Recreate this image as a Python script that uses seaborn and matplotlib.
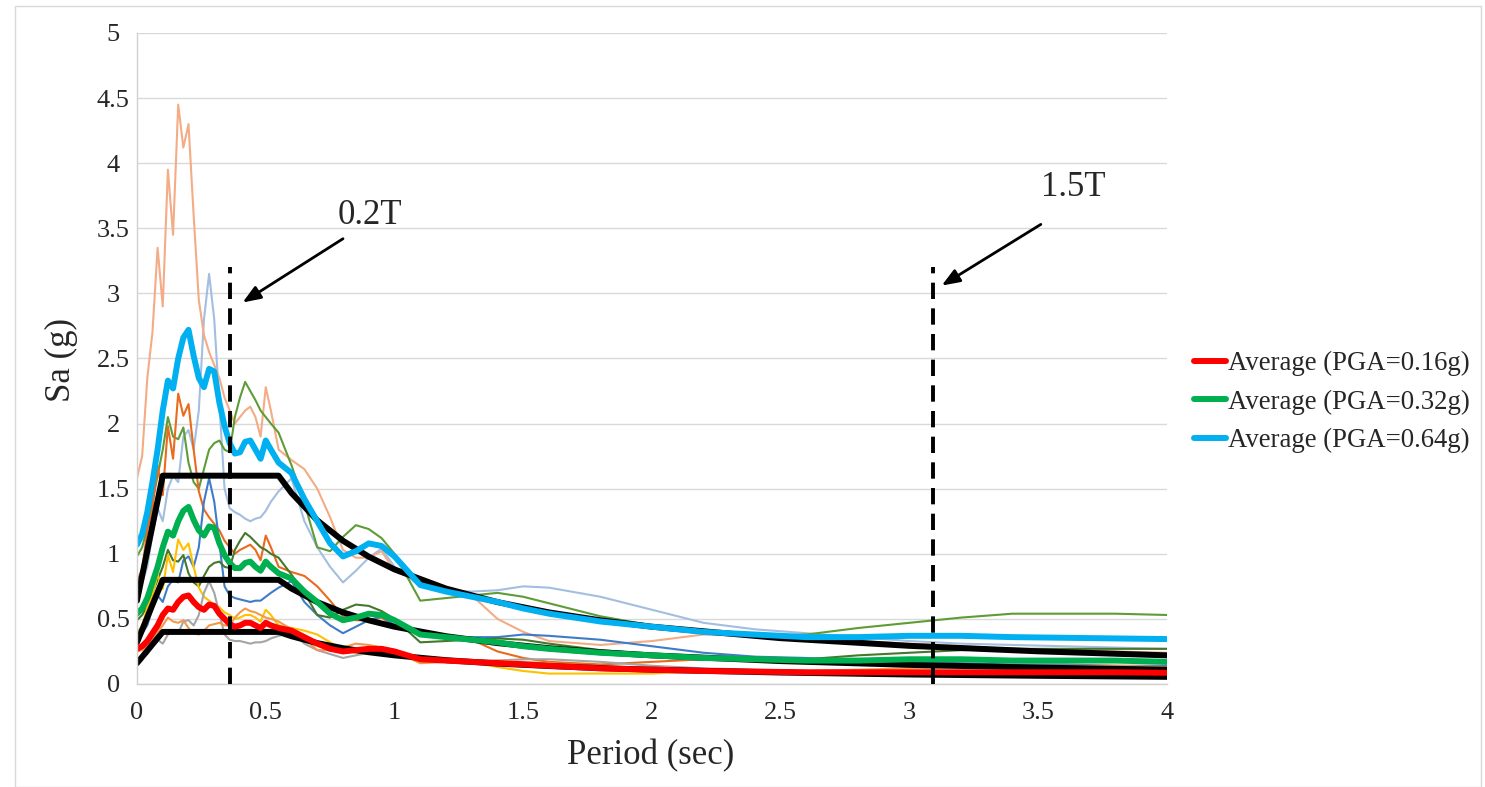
import matplotlib
matplotlib.use("Agg")
import matplotlib.pyplot as plt
import seaborn as sns
from matplotlib.patches import Rectangle

# Spectral periods (sec) shared by every record and average
periods = [0.00, 0.02, 0.04, 0.06, 0.08, 0.10, 0.12, 0.14, 0.16, 0.18,
           0.20, 0.22, 0.24, 0.26, 0.28, 0.30, 0.32, 0.34, 0.36, 0.38,
           0.40, 0.42, 0.44, 0.46, 0.48, 0.50, 0.52,
           0.55, 0.60, 0.65, 0.70, 0.75, 0.80, 0.85, 0.90, 0.95, 1.00,
           1.10, 1.20, 1.30, 1.40, 1.50, 1.60,
           1.80, 2.00, 2.20, 2.40, 2.60, 2.80, 3.00, 3.20, 3.40, 3.60, 3.80, 4.00]

# Record spectra, PGA = 0.16 g
rec_a_016 = [0.40, 0.44, 0.59, 0.68, 0.84, 0.73, 0.99, 0.86, 1.11, 1.03,
             1.08, 0.90, 0.74, 0.67, 0.64, 0.61, 0.59, 0.55, 0.53, 0.50,
             0.51, 0.53, 0.53, 0.51, 0.48, 0.57, 0.53,
             0.45, 0.43, 0.41, 0.38, 0.32, 0.26, 0.24, 0.24, 0.26, 0.22,
             0.20, 0.18, 0.17, 0.13, 0.10, 0.08,
             0.08, 0.08, 0.10, 0.09, 0.09, 0.08, 0.08, 0.07, 0.07, 0.07, 0.06, 0.06]
rec_b_016 = [0.16, 0.20, 0.23, 0.29, 0.34, 0.31, 0.38, 0.40, 0.39, 0.48,
             0.49, 0.45, 0.53, 0.70, 0.79, 0.70, 0.54, 0.38, 0.34, 0.33,
             0.33, 0.32, 0.31, 0.32, 0.32, 0.33, 0.35,
             0.37, 0.40, 0.31, 0.26, 0.23, 0.20, 0.22, 0.24, 0.26, 0.23,
             0.19, 0.18, 0.18, 0.18, 0.19, 0.19,
             0.17, 0.14, 0.12, 0.11, 0.10, 0.09, 0.08, 0.08, 0.08, 0.07, 0.07, 0.07]
rec_c_016 = [0.25, 0.26, 0.30, 0.35, 0.40, 0.45, 0.51, 0.48, 0.47, 0.49,
             0.43, 0.39, 0.38, 0.41, 0.45, 0.46, 0.47, 0.45, 0.45, 0.51,
             0.55, 0.58, 0.56, 0.55, 0.53, 0.51, 0.50,
             0.48, 0.42, 0.35, 0.26, 0.26, 0.28, 0.31, 0.30, 0.28, 0.25,
             0.16, 0.17, 0.17, 0.18, 0.17, 0.16,
             0.13, 0.11, 0.10, 0.09, 0.10, 0.11, 0.12, 0.13, 0.14, 0.14, 0.14, 0.13]

# Record spectra, PGA = 0.32 g
rec_a_032 = [0.79, 0.88, 1.18, 1.35, 1.68, 1.45, 1.98, 1.73, 2.23, 2.06,
             2.15, 1.80, 1.48, 1.34, 1.28, 1.23, 1.18, 1.10, 1.05, 1.00,
             1.03, 1.05, 1.07, 1.03, 0.95, 1.14, 1.05,
             0.90, 0.86, 0.83, 0.75, 0.64, 0.52, 0.49, 0.49, 0.51, 0.44,
             0.39, 0.37, 0.34, 0.25, 0.20, 0.17,
             0.15, 0.17, 0.19, 0.19, 0.18, 0.17, 0.16, 0.15, 0.14, 0.13, 0.13, 0.12]
rec_b_032 = [0.33, 0.39, 0.45, 0.58, 0.68, 0.63, 0.75, 0.80, 0.78, 0.95,
             0.98, 0.90, 1.05, 1.40, 1.58, 1.40, 1.08, 0.75, 0.68, 0.66,
             0.65, 0.64, 0.63, 0.64, 0.64, 0.67, 0.70,
             0.74, 0.79, 0.63, 0.53, 0.45, 0.39, 0.44, 0.49, 0.52, 0.45,
             0.38, 0.36, 0.36, 0.36, 0.38, 0.37,
             0.34, 0.29, 0.24, 0.21, 0.20, 0.18, 0.17, 0.16, 0.15, 0.15, 0.14, 0.14]
rec_c_032 = [0.49, 0.53, 0.60, 0.70, 0.80, 0.90, 1.03, 0.95, 0.94, 0.99,
             0.85, 0.78, 0.75, 0.83, 0.90, 0.93, 0.94, 0.90, 0.89, 1.03,
             1.10, 1.16, 1.13, 1.09, 1.05, 1.03, 1.00,
             0.97, 0.84, 0.70, 0.53, 0.51, 0.57, 0.61, 0.60, 0.56, 0.50,
             0.32, 0.33, 0.34, 0.35, 0.34, 0.31,
             0.26, 0.23, 0.20, 0.19, 0.19, 0.22, 0.24, 0.26, 0.27, 0.27, 0.27, 0.27]

# Record spectra, PGA = 0.64 g
rec_a_064 = [1.58, 1.75, 2.35, 2.70, 3.35, 2.90, 3.95, 3.45, 4.45, 4.12,
             4.30, 3.60, 2.95, 2.68, 2.55, 2.45, 2.35, 2.20, 2.10, 2.00,
             2.05, 2.10, 2.13, 2.05, 1.90, 2.28, 2.10,
             1.80, 1.72, 1.65, 1.50, 1.28, 1.03, 0.97, 0.97, 1.02, 0.87,
             0.78, 0.73, 0.68, 0.50, 0.40, 0.33,
             0.30, 0.33, 0.38, 0.37, 0.35, 0.33, 0.31, 0.29, 0.27, 0.26, 0.25, 0.24]
rec_b_064 = [0.65, 0.78, 0.90, 1.15, 1.35, 1.25, 1.50, 1.60, 1.55, 1.90,
             1.95, 1.80, 2.10, 2.80, 3.15, 2.80, 2.15, 1.50, 1.35, 1.32,
             1.30, 1.27, 1.25, 1.27, 1.28, 1.33, 1.40,
             1.48, 1.58, 1.25, 1.05, 0.90, 0.78, 0.87, 0.97, 1.04, 0.90,
             0.75, 0.72, 0.71, 0.72, 0.75, 0.74,
             0.67, 0.57, 0.47, 0.42, 0.39, 0.36, 0.33, 0.31, 0.30, 0.29, 0.28, 0.27]
rec_c_064 = [0.98, 1.05, 1.20, 1.40, 1.60, 1.80, 2.05, 1.90, 1.88, 1.97,
             1.70, 1.55, 1.50, 1.65, 1.80, 1.85, 1.87, 1.80, 1.78, 2.05,
             2.20, 2.32, 2.25, 2.18, 2.10, 2.05, 2.00,
             1.93, 1.68, 1.39, 1.05, 1.02, 1.13, 1.22, 1.19, 1.12, 1.00,
             0.64, 0.66, 0.68, 0.70, 0.67, 0.62,
             0.52, 0.45, 0.40, 0.37, 0.38, 0.43, 0.47, 0.51, 0.54, 0.54, 0.54, 0.53]

# Average spectra
avg_016 = [0.27, 0.29, 0.33, 0.39, 0.45, 0.53, 0.58, 0.57, 0.63, 0.67,
           0.68, 0.63, 0.59, 0.57, 0.61, 0.60, 0.54, 0.50, 0.46, 0.44,
           0.45, 0.47, 0.47, 0.45, 0.43, 0.47, 0.45,
           0.43, 0.41, 0.36, 0.31, 0.27, 0.25, 0.26, 0.27, 0.27, 0.25,
           0.19, 0.18, 0.17, 0.16, 0.15, 0.14,
           0.12, 0.11, 0.10, 0.095, 0.09, 0.09, 0.09, 0.09, 0.09, 0.09, 0.09, 0.086]
avg_032 = [0.54, 0.58, 0.66, 0.78, 0.90, 1.05, 1.17, 1.14, 1.25, 1.33,
           1.36, 1.26, 1.18, 1.14, 1.21, 1.20, 1.08, 0.99, 0.93, 0.89,
           0.89, 0.93, 0.94, 0.90, 0.87, 0.94, 0.90,
           0.85, 0.81, 0.71, 0.63, 0.54, 0.49, 0.51, 0.54, 0.53, 0.49,
           0.38, 0.36, 0.34, 0.32, 0.29, 0.27,
           0.24, 0.22, 0.20, 0.19, 0.18, 0.18, 0.19, 0.19, 0.18, 0.18, 0.18, 0.17]
avg_064 = [1.07, 1.15, 1.32, 1.55, 1.80, 2.10, 2.33, 2.27, 2.50, 2.66,
           2.72, 2.52, 2.35, 2.28, 2.42, 2.40, 2.16, 1.98, 1.85, 1.77,
           1.78, 1.86, 1.87, 1.80, 1.73, 1.87, 1.80,
           1.70, 1.62, 1.42, 1.25, 1.08, 0.98, 1.02, 1.08, 1.06, 0.98,
           0.76, 0.71, 0.67, 0.63, 0.58, 0.54,
           0.48, 0.44, 0.40, 0.38, 0.36, 0.36, 0.37, 0.37, 0.36, 0.355, 0.35, 0.345]

# Design (code) spectra
code_periods = [0.0, 0.1, 0.55, 0.6, 0.7, 0.8, 0.9, 1.0, 1.2, 1.4, 1.6, 1.8,
                2.0, 2.5, 3.0, 3.5, 4.0]
code_016 = [0.16, 0.40, 0.40, 0.367, 0.314, 0.275, 0.244, 0.22, 0.183, 0.157,
            0.138, 0.122, 0.11, 0.088, 0.073, 0.063, 0.055]
code_032 = [0.32, 0.80, 0.80, 0.733, 0.629, 0.55, 0.489, 0.44, 0.367, 0.314,
            0.275, 0.244, 0.22, 0.176, 0.147, 0.126, 0.11]
code_064 = [0.64, 1.60, 1.60, 1.467, 1.257, 1.10, 0.978, 0.88, 0.733, 0.629,
            0.55, 0.489, 0.44, 0.352, 0.293, 0.251, 0.22]

# Period-range bounds
bound_periods = [0.36, 3.09]
bound_top = 3.2
bound_labels = ["0.2T", "1.5T"]

avg_labels = ["Average (PGA=0.16g)", "Average (PGA=0.32g)", "Average (PGA=0.64g)"]
x_ticks = [0, 0.5, 1, 1.5, 2, 2.5, 3, 3.5, 4]
x_tick_labels = ["0", "0.5", "1", "1.5", "2", "2.5", "3", "3.5", "4"]
y_ticks = [0, 0.5, 1, 1.5, 2, 2.5, 3, 3.5, 4, 4.5, 5]
y_tick_labels = ["0", "0.5", "1", "1.5", "2", "2.5", "3", "3.5", "4", "4.5", "5"]

sns.set_theme(style="white")
plt.rcParams["font.family"] = ["Liberation Serif", "DejaVu Serif"]

W, H = 1485, 787
fig = plt.figure(figsize=(W / 100, H / 100), dpi=100)
ax = fig.add_axes([137 / W, 1 - 684 / H, (1167 - 137) / W, (684 - 33) / H])

# chart-area outline
fig.patches.append(Rectangle((15 / W, 0), (1481 - 15) / W, 1 - 6 / H,
                             transform=fig.transFigure, fill=False,
                             edgecolor="#D9D9D9", lw=1.0, zorder=0))

line_kw = dict(solid_joinstyle="round", solid_capstyle="round")

records = [
    (rec_b_064, "#A3BEE0"), (rec_a_064, "#F3AC85"), (rec_c_064, "#5E9C35"),
    (rec_a_032, "#EA6A1E"), (rec_b_032, "#3F7CC8"), (rec_c_032, "#44782A"),
    (rec_a_016, "#FFC000"), (rec_b_016, "#A5A5A5"), (rec_c_016, "#F2994A"),
]
for vals, col in records:
    sns.lineplot(x=periods, y=vals, ax=ax, color=col, lw=1.5, legend=False,
                 estimator=None, sort=False, **line_kw)

for vals in (code_064, code_032, code_016):
    sns.lineplot(x=code_periods, y=vals, ax=ax, color="black", lw=4.3,
                 legend=False, estimator=None, sort=False, **line_kw)

avg_styles = [(avg_016, "#FF0000", 4.3), (avg_032, "#00B050", 4.3),
              (avg_064, "#00B0F0", 4.3)]
for (vals, col, lw), lab in zip(avg_styles, avg_labels):
    sns.lineplot(x=periods, y=vals, ax=ax, color=col, lw=lw, label=lab,
                 estimator=None, sort=False, **line_kw)

for xb in bound_periods:
    ax.plot([xb, xb], [0, bound_top], color="black", lw=2.8,
            dashes=(4.2, 2.4), zorder=6)

# annotation arrows and labels
ax.annotate("", xy=(0.41, 2.93), xytext=(0.80, 3.42),
            arrowprops=dict(arrowstyle="-|>,head_length=0.9,head_width=0.35",
                            color="black", lw=2.0, shrinkA=0, shrinkB=0))
ax.text(0.905, 3.60, bound_labels[0], fontsize=25, ha="center", va="center")
ax.annotate("", xy=(3.125, 3.06), xytext=(3.51, 3.53),
            arrowprops=dict(arrowstyle="-|>,head_length=0.9,head_width=0.35",
                            color="black", lw=2.0, shrinkA=0, shrinkB=0))
ax.text(3.635, 3.81, bound_labels[1], fontsize=25, ha="center", va="center")

ax.set_xlim(0, 4)
ax.set_ylim(0, 5)
ax.set_xticks(x_ticks)
ax.set_xticklabels(x_tick_labels)
ax.set_yticks(y_ticks)
ax.set_yticklabels(y_tick_labels)
ax.tick_params(axis="both", length=0, labelsize=19, colors="#262626")
ax.tick_params(axis="x", pad=13)
ax.tick_params(axis="y", pad=17)
for lbl in ax.get_yticklabels():
    lbl.set_horizontalalignment("center")

ax.yaxis.grid(True, color="#D9D9D9", lw=1.0)
ax.xaxis.grid(False)
for side in ("top", "right"):
    ax.spines[side].set_visible(False)
for side in ("left", "bottom"):
    ax.spines[side].set_color("#D0D0D0")
    ax.spines[side].set_linewidth(1.0)

ax.set_xlabel("Period (sec)", fontsize=25, color="#262626")
ax.set_ylabel("Sa (g)", fontsize=25, color="#262626")
ax.xaxis.set_label_coords(0.499, -0.085)
ax.yaxis.set_label_coords(-0.057, 0.498)

leg = ax.legend(loc="center left", bbox_to_anchor=(1194 / W, 1 - 402 / H),
                bbox_transform=fig.transFigure, frameon=False, fontsize=19.3,
                handlelength=1.2, handletextpad=0.05, labelspacing=0.5,
                borderpad=0, borderaxespad=0)
for t in leg.get_texts():
    t.set_color("#262626")

fig.savefig("out.png", dpi=100, facecolor="white")
